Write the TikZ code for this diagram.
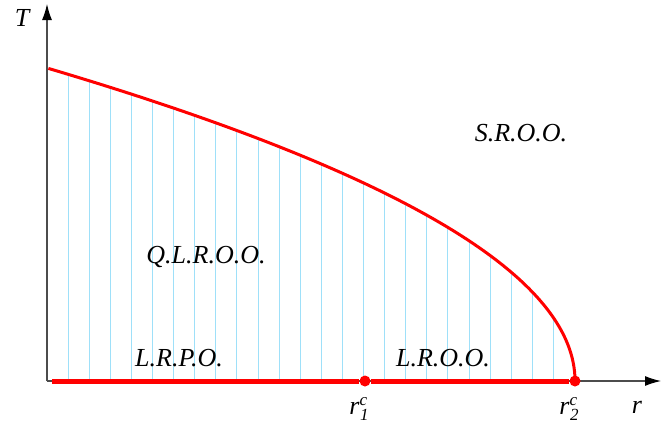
\documentclass[tikz,border=0pt]{standalone}
\usepackage{fontspec}
\setmainfont{Liberation Serif}
\newfontfamily\lblfont{Liberation Serif Italic}
\usetikzlibrary{arrows.meta}

\tikzset{
  lbl/.style={font=\fontsize{26}{28}\selectfont\lblfont, inner sep=0pt},
  hatch/.style={cyan!38, line width=1pt},
  axis/.style={->, black!70, line width=1.2pt},
  crit/.style={circle, fill=red, inner sep=0pt, minimum size=11pt},
}
% index pair for the critical values
\newcommand{\crlab}[1]{r\raisebox{9pt}{\fontsize{17}{18}\selectfont c}\kern-7pt\raisebox{-6pt}{\fontsize{17}{18}\selectfont #1}}

\begin{document}
\begin{tikzpicture}[x=1pt, y=-1pt, >={Latex[length=16pt,width=10pt,color=black]}]
  \useasboundingbox (0,0) rectangle (668,426);

  % Origin and axis ends
  \coordinate (O) at (47,381);
  \coordinate (Ttop) at (47,4);
  \coordinate (rtop) at (661,381);
  \coordinate (start) at (52,381);

  % Hatching under the boundary
  \foreach \k in {1,...,24}
    \draw[hatch] ({47+21.1*\k},381) -- ({47+21.1*\k},{381-313*sqrt(max(0,1-21.1*\k/528))});

  % Axes
  \draw[axis] (O) -- (Ttop);
  \draw[axis] (O) -- (rtop);

  % Phase boundary T(r), vertical at r_2^c
  \draw[red, line width=3pt] plot[domain=0:1, samples=120, smooth] ({47+528*(1-\x*\x)},{381-313*\x});

  % Critical points on the r axis
  \node[crit] (r1) at (365,381) {};
  \node[crit] (r2) at (575,381) {};
  \draw[red, line width=5pt] (start) -- (r1) -- (r2);

  % Axis labels
  \node[lbl] (Tlab) at (22,18) {T};
  \node[lbl] (rlab) at (637,407) {r};
  \node[lbl] (r1lab) at (359,409) {\crlab{1}};
  \node[lbl] (r2lab) at (569,409) {\crlab{2}};

  % Regions
  \node[lbl] (sroo) at (521,133) {S.R.O.O.};
  \node[lbl] (qlroo) at (206,257) {Q.L.R.O.O.};
  \node[lbl] (lrpo) at (179,358) {L.R.P.O.};
  \node[lbl] (lroo) at (443,358) {L.R.O.O.};
\end{tikzpicture}
\end{document}
